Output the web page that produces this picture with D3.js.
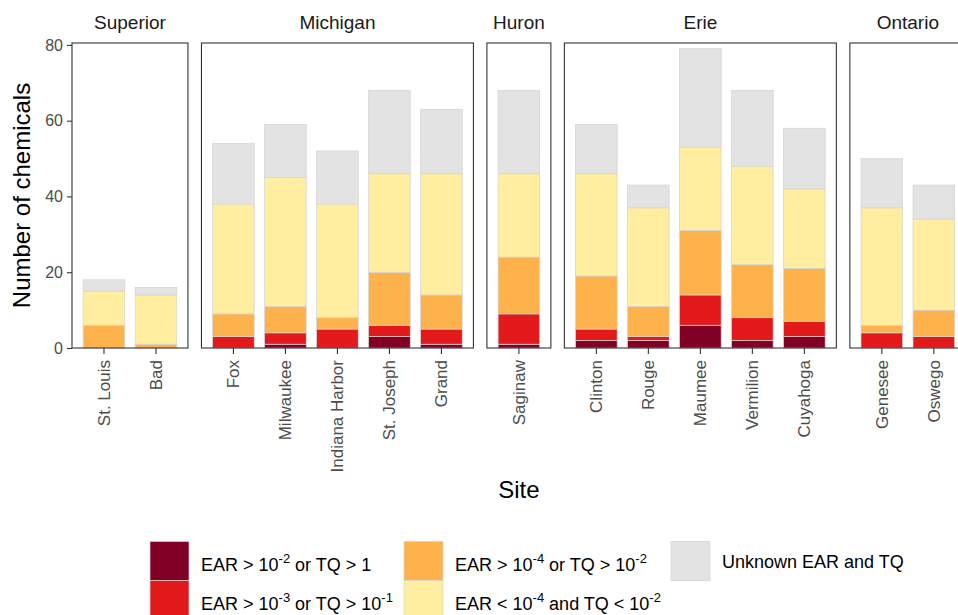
<!DOCTYPE html>
<html>
<head>
<meta charset="utf-8">
<script src="https://cdn.jsdelivr.net/npm/d3@7"></script>
<style>
  html, body { margin: 0; padding: 0; background: #fff; }
  svg { display: block; font-family: "Liberation Sans", Arial, sans-serif; }
</style>
</head>
<body>
<svg id="chart" width="958" height="615"></svg>
<script>
// Sampling sites grouped by lake
const lakes = ["Superior", "Michigan", "Huron", "Erie", "Ontario"];
const sites = ["St. Louis", "Bad", "Fox", "Milwaukee", "Indiana Harbor", "St. Joseph", "Grand",
               "Saginaw", "Clinton", "Rouge", "Maumee", "Vermilion", "Cuyahoga", "Genesee", "Oswego"];
const siteLake = ["Superior", "Superior", "Michigan", "Michigan", "Michigan", "Michigan", "Michigan",
                  "Huron", "Erie", "Erie", "Erie", "Erie", "Erie", "Ontario", "Ontario"];

// Number of chemicals in each priority class, per site
const earHigh    = [0, 0, 0, 1, 0, 3, 1, 1, 2, 2, 6, 2, 3, 0, 0];   // EAR > 1e-2 or TQ > 1
const earMid     = [0, 0, 3, 3, 5, 3, 4, 8, 3, 1, 8, 6, 4, 4, 3];   // EAR > 1e-3 or TQ > 1e-1
const earLow     = [6, 1, 6, 7, 3, 14, 9, 15, 14, 8, 17, 14, 14, 2, 7]; // EAR > 1e-4 or TQ > 1e-2
const earMin     = [9, 13, 29, 34, 30, 26, 32, 22, 27, 26, 22, 26, 21, 31, 24]; // EAR < 1e-4 and TQ < 1e-2
const earUnknown = [3, 2, 16, 14, 14, 22, 17, 22, 13, 6, 26, 20, 16, 13, 9];  // Unknown EAR and TQ

const yTicks = [0, 20, 40, 60, 80];

const classKeys = ["high", "mid", "low", "min", "unknown"];
const classColors = ["#800026", "#E31A1C", "#FEB24C", "#FFEDA0", "#E3E3E3"];
const legendLabels = [
  [{t: "EAR > 10"}, {t: "-2", sup: true}, {t: " or TQ > 1"}],
  [{t: "EAR > 10"}, {t: "-3", sup: true}, {t: " or TQ > 10"}, {t: "-1", sup: true}],
  [{t: "EAR > 10"}, {t: "-4", sup: true}, {t: " or TQ > 10"}, {t: "-2", sup: true}],
  [{t: "EAR < 10"}, {t: "-4", sup: true}, {t: " and TQ < 10"}, {t: "-2", sup: true}],
  [{t: "Unknown EAR and TQ"}]
];

const rows = sites.map((s, i) => ({
  site: s, lake: siteLake[i],
  high: earHigh[i], mid: earMid[i], low: earLow[i], min: earMin[i], unknown: earUnknown[i]
}));

const svg = d3.select("#chart");

// Layout
const panelTop = 43, panelBottom = 348;
const plotLeft = 72;
const step = 52;            // width per site
const padInner = 0.2, padOuter = 0.215;
const panelGap = 13.5;

const y = d3.scaleLinear().domain([0, 80.5]).range([panelBottom, panelTop]);

const stack = d3.stack().keys(classKeys);

let xCursor = plotLeft;
const panels = lakes.map(lake => {
  const lakeSites = rows.filter(r => r.lake === lake).map(r => r.site);
  const w = step * (lakeSites.length - padInner + 2 * padOuter);
  const x = d3.scaleBand().domain(lakeSites).range([xCursor, xCursor + w])
    .paddingInner(padInner).paddingOuter(padOuter);
  const p = {lake, sites: lakeSites, x, x0: xCursor, x1: xCursor + w};
  xCursor += w + panelGap;
  return p;
});

panels.forEach(p => {
  const g = svg.append("g");
  const data = rows.filter(r => r.lake === p.lake);
  const series = stack(data);

  series.forEach((s, k) => {
    g.append("g").selectAll("rect").data(s).join("rect")
      .attr("x", d => p.x(d.data.site))
      .attr("width", p.x.bandwidth())
      .attr("y", d => y(d[1]))
      .attr("height", d => y(d[0]) - y(d[1]))
      .attr("fill", classColors[k])
      .attr("stroke", "#D3D3D3")
      .attr("stroke-width", 0.7);
  });

  // panel border
  g.append("rect")
    .attr("x", p.x0).attr("y", panelTop)
    .attr("width", p.x1 - p.x0).attr("height", panelBottom - panelTop)
    .attr("fill", "none").attr("stroke", "#333333").attr("stroke-width", 1.1);

  // strip label
  g.append("text")
    .attr("x", (p.x0 + p.x1) / 2).attr("y", 29)
    .attr("text-anchor", "middle")
    .attr("font-size", 19).attr("fill", "#1A1A1A")
    .text(p.lake);

  // x axis
  const xAxis = d3.axisBottom(p.x).tickSize(6).tickPadding(5);
  const ax = g.append("g").attr("transform", `translate(0,${panelBottom})`).call(xAxis);
  ax.select(".domain").remove();
  ax.selectAll(".tick line").attr("stroke", "#333333").attr("stroke-width", 1.1);
  ax.selectAll(".tick text")
    .attr("font-size", 17).attr("fill", "#4D4D4D")
    .attr("font-family", "Liberation Sans, Arial, sans-serif")
    .attr("text-anchor", "end")
    .attr("transform", "rotate(-90)")
    .attr("x", -12).attr("y", 0).attr("dy", "0.35em");
});

// y axis on the first panel
const yAxis = d3.axisLeft(y).tickValues(yTicks).tickSize(5).tickPadding(4);
const yg = svg.append("g").attr("transform", `translate(${plotLeft},0)`).call(yAxis);
yg.select(".domain").remove();
yg.selectAll(".tick line").attr("stroke", "#333333").attr("stroke-width", 1.1);
yg.selectAll(".tick text").attr("font-size", 16).attr("fill", "#4D4D4D")
  .attr("font-family", "Liberation Sans, Arial, sans-serif");

// axis titles
svg.append("text")
  .attr("transform", `translate(30,${(panelTop + panelBottom) / 2}) rotate(-90)`)
  .attr("text-anchor", "middle").attr("font-size", 24).attr("fill", "#000")
  .text("Number of chemicals");

svg.append("text")
  .attr("x", (plotLeft + panels[panels.length - 1].x1) / 2).attr("y", 498)
  .attr("text-anchor", "middle").attr("font-size", 24).attr("fill", "#000")
  .text("Site");

// legend
const keySize = 39;
const legendCols = [150, 404, 671];
const legendTop = 541.5;
const legend = svg.append("g");
classKeys.forEach((k, i) => {
  const col = Math.floor(i / 2), row = i % 2;
  const kx = legendCols[col], ky = legendTop + row * keySize;
  legend.append("rect")
    .attr("x", kx).attr("y", ky).attr("width", keySize).attr("height", keySize)
    .attr("fill", classColors[i]).attr("stroke", "#D3D3D3").attr("stroke-width", 0.7);
  const hasSup = legendLabels[i].some(s => s.sup);
  const txt = legend.append("text")
    .attr("x", kx + keySize + 12).attr("y", ky + keySize / 2 + (hasSup ? 9.5 : 7))
    .attr("font-size", 18).attr("fill", "#000");
  legendLabels[i].forEach(seg => {
    if (seg.sup) {
      txt.append("tspan").attr("font-size", 13).attr("dy", -8).text(seg.t);
    } else {
      const ts = txt.append("tspan").text(seg.t);
      if (txt.selectAll("tspan").size() > 1) ts.attr("dy", 8);
    }
  });
});
</script>
</body>
</html>
